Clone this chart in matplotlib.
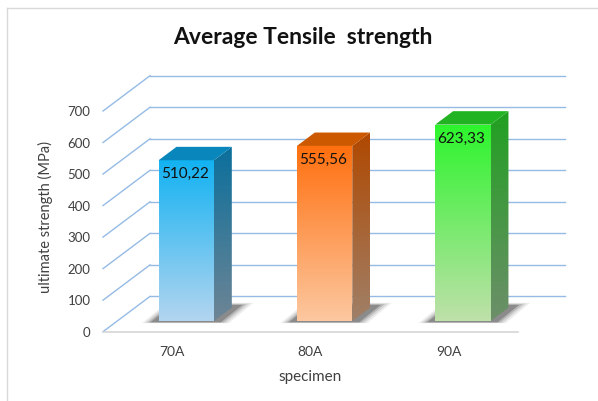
import numpy as np
import matplotlib.pyplot as plt
from matplotlib.patches import Polygon
from matplotlib.colors import LinearSegmentedColormap
from matplotlib.lines import Line2D

plt.rcParams['font.family'] = ['Lato', 'DejaVu Sans']

# datos
categorias = ['70A', '80A', '90A']
valores = [510.22, 555.56, 623.33]
etiquetas = ['510,22', '555,56', '623,33']
yticks = [0, 100, 200, 300, 400, 500, 600, 700]

# colores: (frente arriba, frente abajo, lado arriba, lado abajo, tapa)
colores = [
    ('#12b2f2', '#b3d5ef', '#0a6f9c', '#6e8595', '#0987bd'),
    ('#ff6f0e', '#fcc8a0', '#b04800', '#a08068', '#cc5800'),
    ('#2cf52c', '#bfe0aa', '#21a021', '#6d8f6a', '#22b322'),
]

# perspectiva (profundidad en unidades de datos)
DX = 0.34
DY = 112
d0, d1 = 0.30, 0.68
ancho = 0.4

fig = plt.figure(figsize=(5.98, 4.01), dpi=100)
ax = fig.add_axes([103 / 598, (401 - 331.7) / 401, 462 / 598, 256 / 401])
ax.set_facecolor('none')


def relleno(puntos, c_arriba, c_abajo, z):
    puntos = np.array(puntos)
    patch = Polygon(puntos, closed=True, facecolor='none', edgecolor='none', zorder=z)
    ax.add_patch(patch)
    cmap = LinearSegmentedColormap.from_list('g', [c_abajo, c_arriba])
    grad = np.linspace(0, 1, 256).reshape(-1, 1)
    im = ax.imshow(grad, cmap=cmap, origin='lower', aspect='auto', zorder=z,
                   extent=[puntos[:, 0].min(), puntos[:, 0].max(),
                           puntos[:, 1].min(), puntos[:, 1].max()])
    im.set_clip_path(patch)


# rejilla: pared izquierda y pared de fondo
x0, x1 = -0.5, len(categorias) - 0.5
for v in yticks:
    ax.plot([x0, x0 + DX], [v, v + DY], color='#95bbe5', lw=1.0, zorder=1, clip_on=False)
    ax.plot([x0 + DX, x1 + DX], [v + DY, v + DY], color='#95bbe5', lw=1.0, zorder=1, clip_on=False)
# borde del piso
ax.plot([x0, x1], [0, 0], color='#d6d6d6', lw=1.2, zorder=1, clip_on=False)

for i, v in enumerate(valores):
    xl = i - ancho / 2
    xr = i + ancho / 2
    ct, cb, st, sb, tp = colores[i]

    # sombra (difusa)
    for k, a in [(0.06, 0.08), (0.04, 0.12), (0.02, 0.18), (0.0, 0.3)]:
        sombra = [
            (xl - 0.06 - k + DX * d0, DY * d0 - 4 - k * 40),
            (xr + 0.05 + k + DX * d0, DY * d0 - 4 - k * 40),
            (xr + 0.05 + k + DX * (d1 + 0.08 + k), DY * (d1 + 0.08 + k)),
            (xl - 0.06 - k + DX * (d1 + 0.08 + k), DY * (d1 + 0.08 + k)),
        ]
        ax.add_patch(Polygon(sombra, closed=True, facecolor='#2a2a2a', edgecolor='none',
                             alpha=a, zorder=2))

    fx0 = xl + DX * d0
    fx1 = xr + DX * d0
    fy0 = DY * d0
    fy1 = v + DY * d0
    bx = DX * (d1 - d0)
    by = DY * (d1 - d0)

    # frente
    relleno([(fx0, fy0), (fx1, fy0), (fx1, fy1), (fx0, fy1)], ct, cb, 3)
    # lado derecho
    relleno([(fx1, fy0), (fx1 + bx, fy0 + by), (fx1 + bx, fy1 + by), (fx1, fy1)], st, sb, 3)
    # tapa
    ax.add_patch(Polygon([(fx0, fy1), (fx1, fy1), (fx1 + bx, fy1 + by), (fx0 + bx, fy1 + by)],
                         closed=True, facecolor=tp, edgecolor='none', zorder=4))

    ax.text(fx0 + 0.015, fy1 - 44, etiquetas[i], fontsize=11, color='#111111',
            ha='left', va='center', zorder=5)

ax.set_xlim(x0, x1 + DX)
ax.set_ylim(0, 700 + DY)
ax.set_yticks(yticks)
ax.set_yticklabels([str(t) for t in yticks])
ax.set_xticks(range(len(categorias)))
ax.set_xticklabels(categorias)
ax.tick_params(axis='y', length=0, pad=9, labelsize=9.5, labelcolor='#404040')
ax.tick_params(axis='x', length=0, pad=10, labelsize=10, labelcolor='#404040')
for s in ax.spines.values():
    s.set_visible(False)

fig.text(310 / 598, 1 - 377 / 401, 'specimen', fontsize=11, color='#404040',
         ha='center', va='center')
fig.text(45 / 598, 1 - 217 / 401, 'ultimate strength (MPa)', fontsize=10.5, color='#404040',
         ha='center', va='center', rotation=90)
fig.text(303 / 598, 1 - 37 / 401, 'Average Tensile  strength', fontsize=16.5,
         fontweight='bold', color='#111111', ha='center', va='center')

# marco del grafico
fig.add_artist(Line2D([7 / 598, 1], [1 - 8 / 401, 1 - 8 / 401], transform=fig.transFigure,
                      color='#d9d9d9', lw=1))
fig.add_artist(Line2D([7 / 598, 7 / 598], [0, 1 - 8 / 401], transform=fig.transFigure,
                      color='#d9d9d9', lw=1))

fig.savefig('out.png', dpi=100)
